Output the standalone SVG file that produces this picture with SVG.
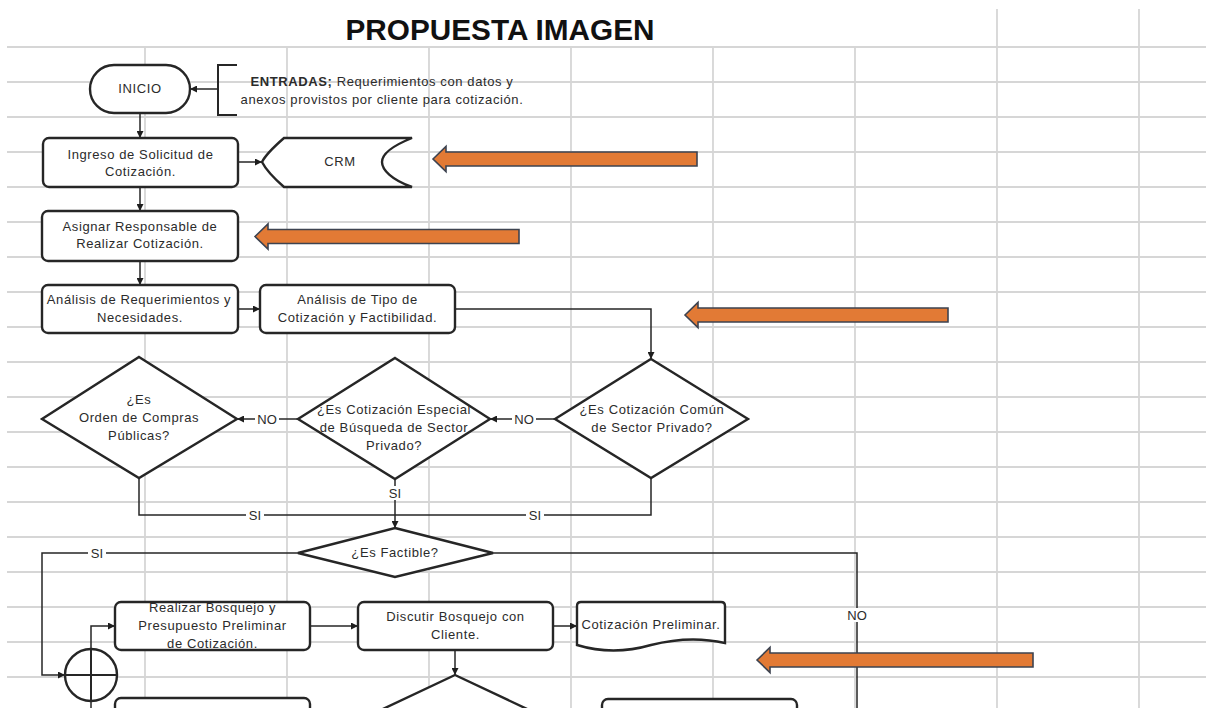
<svg xmlns="http://www.w3.org/2000/svg" width="1206" height="708" viewBox="0 0 1206 708">
  <defs>
    <marker id="arr" viewBox="0 0 10 10" refX="10" refY="5" markerWidth="7" markerHeight="7" orient="auto" markerUnits="userSpaceOnUse">
      <path d="M0,0 L10,5 L0,10 Z" fill="#1e1e1e"/>
    </marker>
    <style>
      .grid { stroke: #d6d6d6; stroke-width: 1.8; fill: none; }
      .shape { fill: #ffffff; stroke: #262626; stroke-width: 2.4; }
      .conn { fill: none; stroke: #262626; stroke-width: 1.5; }
      .t { font-family: "Liberation Sans", Arial, sans-serif; font-size: 13px; letter-spacing: 0.6px; fill: #2b2b2b; text-anchor: middle; }
      .lbl { font-family: "Liberation Sans", Arial, sans-serif; font-size: 13px; fill: #2b2b2b; text-anchor: middle; }
      .lblbg { fill: #ffffff; }
      .orange { fill: #E27A35; stroke: #3d4350; stroke-width: 1.6; stroke-linejoin: miter; }
      .title { font-family: "Liberation Sans", Arial, sans-serif; font-size: 29px; font-weight: bold; fill: #111111; text-anchor: middle; }
    </style>
  </defs>

  <rect x="0" y="0" width="1206" height="708" fill="#ffffff"/>

  <!-- spreadsheet grid -->
  <g id="grid" class="grid">
    <path d="M7,47 H1206 M7,82 H1206 M7,117 H1206 M7,152 H1206 M7,187 H1206 M7,222 H1206 M7,257 H1206 M7,292 H1206 M7,327 H1206 M7,362 H1206 M7,397 H1206 M7,432 H1206 M7,467 H1206 M7,502 H1206 M7,537 H1206 M7,572 H1206 M7,607 H1206 M7,642 H1206 M7,677 H1206"/>
    <path d="M145,47 V708 M287,47 V708 M429,47 V708 M571,47 V708 M713,47 V708 M855,47 V708 M997,9 V708 M1139,9 V708"/>
  </g>

  <text id="title" class="title" x="500" y="40" textLength="309" lengthAdjust="spacingAndGlyphs">PROPUESTA IMAGEN</text>

  <!-- connectors -->
  <g id="connectors">
    <path class="conn" d="M218,89 H190" marker-end="url(#arr)"/>
    <path class="conn" d="M140,113 V138" marker-end="url(#arr)"/>
    <path class="conn" d="M238,162 H262" marker-end="url(#arr)"/>
    <path class="conn" d="M140,187 V211" marker-end="url(#arr)"/>
    <path class="conn" d="M140,261 V285" marker-end="url(#arr)"/>
    <path class="conn" d="M238,309 H260" marker-end="url(#arr)"/>
    <path class="conn" d="M455,309 H651 V359" marker-end="url(#arr)"/>
    <path class="conn" d="M555,419 H490" marker-end="url(#arr)"/>
    <path class="conn" d="M298,419 H237" marker-end="url(#arr)"/>
    <path class="conn" d="M139,478 V515 H395"/>
    <path class="conn" d="M651,478 V515 H395"/>
    <path class="conn" d="M395,479 V528" marker-end="url(#arr)"/>
    <path class="conn" d="M493,553 H857 V708"/>
    <path class="conn" d="M298,553 H42 V675 H65" marker-end="url(#arr)"/>
    <path class="conn" d="M91,649 V626 H115" marker-end="url(#arr)"/>
    <path class="conn" d="M91,701 V708"/>
    <path class="conn" d="M310,626 H358" marker-end="url(#arr)"/>
    <path class="conn" d="M553,626 H577" marker-end="url(#arr)"/>
    <path class="conn" d="M455,650 V675" marker-end="url(#arr)"/>

    <!-- branch labels -->
    <rect class="lblbg" x="512" y="412" width="24" height="14"/>
    <text class="lbl" x="524" y="424">NO</text>
    <rect class="lblbg" x="255" y="412" width="24" height="14"/>
    <text class="lbl" x="267" y="424">NO</text>
    <rect class="lblbg" x="246" y="508" width="18" height="14"/>
    <text class="lbl" x="255" y="520">SI</text>
    <rect class="lblbg" x="526" y="508" width="18" height="14"/>
    <text class="lbl" x="535" y="520">SI</text>
    <rect class="lblbg" x="386" y="486" width="18" height="14"/>
    <text class="lbl" x="395" y="498">SI</text>
    <rect class="lblbg" x="88" y="546" width="18" height="14"/>
    <text class="lbl" x="97" y="558">SI</text>
    <rect class="lblbg" x="845" y="608" width="24" height="14"/>
    <text class="lbl" x="857" y="620">NO</text>
  </g>

  <!-- nodes -->
  <g id="inicio">
    <rect class="shape" x="90" y="65" width="100" height="48" rx="24"/>
    <text class="t" x="140" y="93">INICIO</text>
  </g>

  <g id="entradas">
    <path class="conn" d="M237,65 H218 V115 H237" style="stroke-width:2"/>
    <text class="t" x="382" y="86"><tspan font-weight="bold">ENTRADAS;</tspan> Requerimientos con datos y</text>
    <text class="t" x="382" y="104">anexos provistos por cliente para cotización.</text>
  </g>

  <g id="ingreso">
    <rect class="shape" x="43" y="138" width="195" height="49" rx="6"/>
    <text class="t" x="140.5" y="159">Ingreso de Solicitud de</text>
    <text class="t" x="140.5" y="176">Cotización.</text>
  </g>

  <g id="crm">
    <path class="shape" d="M284,138 H412 C392,146 382,154 382,162 C382,170 392,180 412,187 H284 C276,180 266,170 262,162 C266,154 276,145 284,138 Z"/>
    <text class="t" x="340" y="166">CRM</text>
  </g>

  <g id="asignar">
    <rect class="shape" x="42" y="211" width="196" height="50" rx="6"/>
    <text class="t" x="140" y="231">Asignar Responsable de</text>
    <text class="t" x="140" y="248">Realizar Cotización.</text>
  </g>

  <g id="analisis-req">
    <rect class="shape" x="42" y="285" width="196" height="48" rx="6"/>
    <text class="t" x="139" y="304">Análisis de Requerimientos y</text>
    <text class="t" x="140" y="322">Necesidades.</text>
  </g>

  <g id="analisis-tipo">
    <rect class="shape" x="260" y="285" width="195" height="48" rx="6"/>
    <text class="t" x="357.5" y="304">Análisis de Tipo de</text>
    <text class="t" x="357.5" y="322">Cotización y Factibilidad.</text>
  </g>

  <g id="dec-comun">
    <polygon class="shape" points="651,359 748,419 651,478 555,419"/>
    <text class="t" x="652" y="414">¿Es Cotización Común</text>
    <text class="t" x="652" y="432">de Sector Privado?</text>
  </g>

  <g id="dec-especial">
    <polygon class="shape" points="395,358 490,419 395,479 298,419"/>
    <text class="t" x="394" y="414">¿Es Cotización Especial</text>
    <text class="t" x="394" y="432">de Búsqueda de Sector</text>
    <text class="t" x="394" y="450">Privado?</text>
  </g>

  <g id="dec-compras">
    <polygon class="shape" points="139,357 237,419 139,478 42,419"/>
    <text class="t" x="139" y="404">¿Es</text>
    <text class="t" x="139" y="422">Orden de Compras</text>
    <text class="t" x="139" y="440">Públicas?</text>
  </g>

  <g id="dec-factible">
    <polygon class="shape" points="395,528 493,553 395,577 298,553"/>
    <text class="t" x="395" y="557">¿Es Factible?</text>
  </g>

  <g id="junction">
    <circle class="shape" cx="91" cy="675" r="26"/>
    <path class="conn" d="M65,675 H117 M91,649 V701" style="stroke-width:2"/>
  </g>

  <g id="realizar">
    <rect class="shape" x="115" y="602" width="195" height="48" rx="6"/>
    <text class="t" x="212.5" y="612">Realizar Bosquejo y</text>
    <text class="t" x="212.5" y="630">Presupuesto Preliminar</text>
    <text class="t" x="212.5" y="648">de Cotización.</text>
  </g>

  <g id="discutir">
    <rect class="shape" x="358" y="602" width="195" height="48" rx="6"/>
    <text class="t" x="455.5" y="621">Discutir Bosquejo con</text>
    <text class="t" x="455.5" y="639">Cliente.</text>
  </g>

  <g id="cotizacion-preliminar">
    <path class="shape" d="M577,606 Q577,602 581,602 H721 Q725,602 725,606 V643 Q690,635 651,645 Q613,656 577,645 Z"/>
    <text class="t" x="651" y="629">Cotización Preliminar.</text>
  </g>

  <g id="bottom-left-box">
    <rect class="shape" x="115" y="698" width="195" height="48" rx="6"/>
  </g>

  <g id="bottom-decision">
    <polygon class="shape" points="455,675 595,741 455,807 315,741"/>
  </g>

  <g id="bottom-right-box">
    <rect class="shape" x="602" y="699" width="195" height="48" rx="6"/>
  </g>

  <!-- highlight arrows -->
  <g id="highlights">
    <polygon id="hl-crm" class="orange" points="433,159 446,146.5 446,152 697,152 697,166 446,166 446,171.5"/>
    <polygon id="hl-asignar" class="orange" points="255,236.5 268,224 268,229.5 519,229.5 519,243.5 268,243.5 268,249"/>
    <polygon id="hl-tipo" class="orange" points="685,315 698,302.5 698,308 948,308 948,322 698,322 698,327.5"/>
    <polygon id="hl-preliminar" class="orange" points="757,660 770,647.5 770,653 1033,653 1033,667 770,667 770,672.5"/>
  </g>
</svg>
